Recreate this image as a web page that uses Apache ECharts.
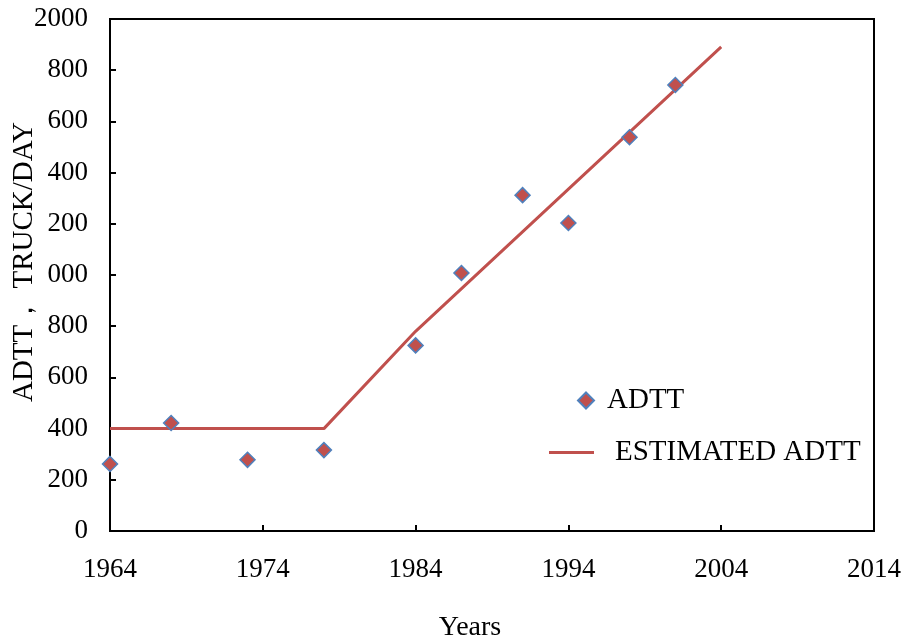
<!DOCTYPE html>
<html>
<head>
<meta charset="utf-8">
<script src="https://cdn.jsdelivr.net/npm/echarts@6/dist/echarts.min.js"></script>
<style>html,body{margin:0;padding:0;background:#fff;}#main{width:904px;height:643px;}</style>
</head>
<body>
<div id="main"></div>
<script>
// Observed ADTT
var obsYears = [1964, 1968, 1973, 1978, 1984, 1987, 1991, 1994, 1998, 2001];
var obsADTT  = [262, 422, 278, 316, 725, 1008, 1312, 1203, 1538, 1742];
// Estimated ADTT
var estYears = [1964, 1978, 1984, 2004];
var estADTT  = [400, 400, 780, 1891];
// Tick labels as shown
var yTickLabels = ['0','200','400','600','800','000','200','400','600','800','2000'];
var xTickLabels = ['1964','1974','1984','1994','2004','2014'];
var seriesNames = ['ADTT', 'ESTIMATED ADTT'];
var yTitle = 'ADTT， TRUCK/DAY';
var xTitle = 'Years';

var FONT = 'Liberation Serif';
var RED = '#C0504D', BLUE = '#4F81BD';

function pairs(xs, ys){ return xs.map(function(x,i){ return [x, ys[i]]; }); }

var chart = echarts.init(document.getElementById('main'));
chart.setOption({
  animation: false,
  backgroundColor: '#fff',
  grid: { left: 110, right: 30, top: 19, bottom: 112, show: true, borderColor: '#000', borderWidth: 2, backgroundColor: 'transparent' },
  xAxis: {
    type: 'value', min: 1964, max: 2014, interval: 10,
    splitLine: { show: false },
    axisLine: { lineStyle: { color: '#000', width: 2 } },
    axisTick: { inside: true, length: 6, lineStyle: { color: '#000', width: 2 } },
    axisLabel: { color: '#000', fontFamily: FONT, fontSize: 27, margin: 25,
      formatter: function(v){ var i = Math.round((v - 1964) / 10); return xTickLabels[i] != null ? xTickLabels[i] : ''; } }
  },
  yAxis: {
    type: 'value', min: 0, max: 2000, interval: 200,
    splitLine: { show: false },
    axisLine: { lineStyle: { color: '#000', width: 2 } },
    axisTick: { inside: true, length: 6, lineStyle: { color: '#000', width: 2 } },
    axisLabel: { color: '#000', fontFamily: FONT, fontSize: 27, margin: 22,
      formatter: function(v){ return yTickLabels[Math.round(v / 200)]; } }
  },
  legend: [
    { data: [seriesNames[0]], left: 572, top: 381, orient: 'vertical', icon: 'diamond',
      itemWidth: 16, itemHeight: 16,
      textStyle: { fontFamily: FONT, fontSize: 29, color: '#000', padding: [0,0,0,8] } },
    { data: [seriesNames[1]], left: 544, top: 433, orient: 'vertical', icon: 'rect',
      itemWidth: 45, itemHeight: 3, itemStyle: { color: RED },
      textStyle: { fontFamily: FONT, fontSize: 29, color: '#000', padding: [0,0,0,16] } }
  ],
  graphic: [
    { type: 'text', x: 24, y: 262, rotation: Math.PI / 2,
      style: { text: yTitle, fontFamily: FONT, fontSize: 29, fill: '#000', align: 'center', verticalAlign: 'middle' } },
    { type: 'text', x: 470, y: 628,
      style: { text: xTitle, fontFamily: FONT, fontSize: 28, fill: '#000', align: 'center', verticalAlign: 'middle' } }
  ],
  series: [
    { name: seriesNames[1], type: 'line', data: pairs(estYears, estADTT), symbol: 'none',
      lineStyle: { color: RED, width: 3 }, itemStyle: { color: RED }, z: 2 },
    { name: seriesNames[0], type: 'scatter', data: pairs(obsYears, obsADTT), symbol: 'diamond', symbolSize: 15,
      itemStyle: { color: RED, borderColor: BLUE, borderWidth: 1.5, opacity: 1 }, z: 3 }
  ]
});
</script>
</body>
</html>
